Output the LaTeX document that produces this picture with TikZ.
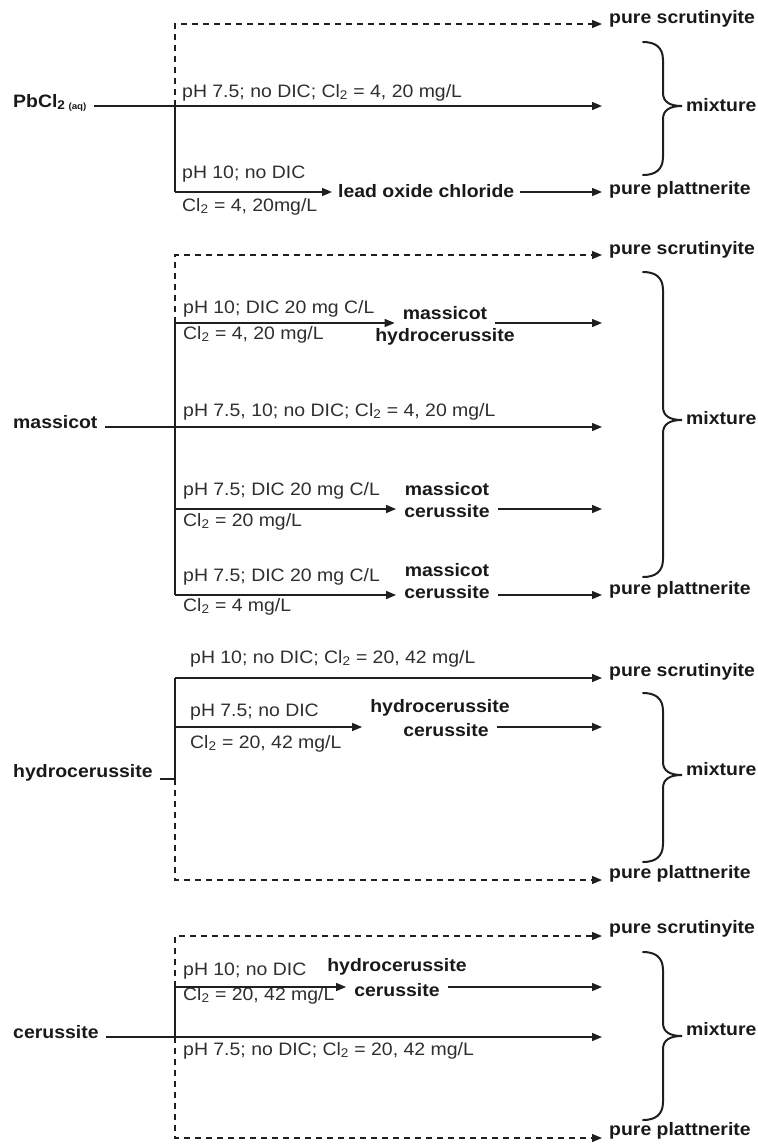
\documentclass[tikz,border=0pt]{standalone}
\usepackage{fontspec}
\setmainfont{Liberation Sans}[FakeStretch=1.08]
\usetikzlibrary{arrows.meta}
\newcommand\drawbrace[3]{%
  \draw[brc] (643,#1) .. controls (655,#1) and (663,{#1+5}) .. (663,{#1+18})
    -- (663,{#2-13}) .. controls (663,{#2-4}) and (670,#2) .. (682,#2)
    .. controls (670,#2) and (663,{#2+4}) .. (663,{#2+13})
    -- (663,{#3-18}) .. controls (663,{#3-5}) and (655,#3) .. (643,#3);}
\begin{document}
\begin{tikzpicture}[x=1pt,y=-1pt,
  font=\fontsize{18}{22}\selectfont,
  cond/.style={inner sep=0pt, anchor=base west, text=black!82},
  src/.style={inner xsep=7pt, inner ysep=0pt, anchor=base west, font=\fontsize{18}{22}\selectfont\bfseries, text=black!90},
  prod/.style={inner xsep=7pt, inner ysep=0pt, anchor=west, font=\fontsize{18}{22}\selectfont\bfseries, text=black!90},
  inter/.style={inner xsep=8pt, inner ysep=0pt, font=\fontsize{18}{22}\selectfont\bfseries, text=black!90},
  mix/.style={inner xsep=4pt, inner ysep=0pt, anchor=west, font=\fontsize{18}{22}\selectfont\bfseries, text=black!90},
  ln/.style={line width=1.4pt, draw=black!88},
  arr/.style={ln, -{Triangle[length=10pt,width=8pt]}},
  dln/.style={line width=1.2pt, draw=black!88, dash pattern=on 6pt off 5pt},
  darr/.style={dln, -{Triangle[length=10pt,width=8pt]}},
  brc/.style={line width=2pt, draw=black!88, line cap=round},
]
\useasboundingbox (0,0) rectangle (758,1144);

% ================= Section 1: PbCl2 =================
\coordinate (j1) at (175,106);
\coordinate (c1top) at (175,24);
\coordinate (k1) at (175,192);
\coordinate (e1m) at (602,106);
\node[src] (src1) at (6,107) {PbCl\textsubscript{2}\,\textsubscript{\fontsize{9}{10}\selectfont (aq)}};
\node[prod] (ps1) at (602,19) {pure scrutinyite};
\node[prod] (pp1) at (602,190) {pure plattnerite};
\node[inter, anchor=west, inner xsep=6pt] (loc) at (332,191) {lead oxide chloride};
\node[cond] (t1a) at (182,97) {pH 7.5; no DIC; Cl\textsubscript{2} = 4, 20 mg/L};
\node[cond] (t1b) at (182,178) {pH 10; no DIC};
\node[cond] (t1c) at (182,211) {Cl\textsubscript{2} = 4, 20mg/L};
\node[mix] (mx1) at (682,105) {mixture};
\draw[darr] (j1) -- (c1top) -- (ps1.west |- c1top);
\draw[arr] (src1.east |- j1) -- (e1m);
\draw[ln] (j1) -- (k1);
\draw[arr] (k1) -- (loc.west |- k1);
\draw[arr] (loc.east |- k1) -- (pp1.west |- k1);
\drawbrace{42}{106}{175}

% ================= Section 2: massicot =================
\coordinate (b2a) at (175,323);
\coordinate (c2top) at (175,255);
\coordinate (j2) at (175,427);
\coordinate (b2b) at (175,509);
\coordinate (b2c) at (175,595);
\coordinate (e2a) at (602,323);
\coordinate (e2m) at (602,427);
\coordinate (e2b) at (602,509);
\node[src] (src2) at (6,428) {massicot};
\node[prod] (ps2) at (602,250) {pure scrutinyite};
\node[prod] (pp2) at (602,590) {pure plattnerite};
\node[inter] (m2a) at (445,313) {massicot};
\node[inter] (h2a) at (445,337) {hydrocerussite};
\node[inter] (m2b) at (447,489) {massicot};
\node[inter] (c2b) at (447,511) {cerussite};
\node[inter] (m2c) at (447,570) {massicot};
\node[inter] (c2c) at (447,592) {cerussite};
\node[cond] (t2a) at (183,313) {pH 10; DIC 20 mg C/L};
\node[cond] (t2b) at (183,339) {Cl\textsubscript{2} = 4, 20 mg/L};
\node[cond] (t2c) at (183,416) {pH 7.5, 10; no DIC; Cl\textsubscript{2} = 4, 20 mg/L};
\node[cond] (t2d) at (183,495) {pH 7.5; DIC 20 mg C/L};
\node[cond] (t2e) at (183,526) {Cl\textsubscript{2} = 20 mg/L};
\node[cond] (t2f) at (183,581) {pH 7.5; DIC 20 mg C/L};
\node[cond] (t2g) at (183,611) {Cl\textsubscript{2} = 4 mg/L};
\node[mix] (mx2) at (682,418) {mixture};
\draw[darr] (b2a) -- (c2top) -- (ps2.west |- c2top);
\draw[ln] (b2a) -- (b2c);
\draw[arr] (b2a) -- (m2a.west |- b2a);
\draw[arr] (m2a.east |- b2a) -- (e2a);
\draw[arr] (src2.east |- j2) -- (e2m);
\draw[arr] (b2b) -- (c2b.west |- b2b);
\draw[arr] (c2b.east |- b2b) -- (e2b);
\draw[arr] (b2c) -- (c2c.west |- b2c);
\draw[arr] (c2c.east |- b2c) -- (pp2.west |- b2c);
\drawbrace{272}{420}{577}

% ================= Section 3: hydrocerussite =================
\coordinate (b3a) at (175,678);
\coordinate (b3b) at (175,727);
\coordinate (j3) at (175,779);
\coordinate (c3bot) at (175,880);
\coordinate (e3b) at (602,727);
\node[src] (src3) at (6,777) {hydrocerussite};
\node[prod] (ps3) at (602,672) {pure scrutinyite};
\node[prod] (pp3) at (602,874) {pure plattnerite};
\node[inter] (h3) at (440,708) {hydrocerussite};
\node[inter] (c3) at (446,730) {cerussite};
\node[cond] (t3a) at (190,663) {pH 10; no DIC; Cl\textsubscript{2} = 20, 42 mg/L};
\node[cond] (t3b) at (190,716) {pH 7.5; no DIC};
\node[cond] (t3c) at (190,748) {Cl\textsubscript{2} = 20, 42 mg/L};
\node[mix] (mx3) at (682,769) {mixture};
\draw[ln] (src3.east |- j3) -- (j3) -- (b3a);
\draw[arr] (b3a) -- (ps3.west |- b3a);
\draw[arr] (b3b) -- (h3.west |- b3b);
\draw[arr] (c3.east |- b3b) -- (e3b);
\draw[darr] (j3) -- (c3bot) -- (pp3.west |- c3bot);
\drawbrace{693}{775}{862}

% ================= Section 4: cerussite =================
\coordinate (b4a) at (175,987);
\coordinate (c4top) at (175,936);
\coordinate (j4) at (175,1037);
\coordinate (c4bot) at (175,1138);
\coordinate (e4a) at (602,987);
\coordinate (e4m) at (602,1037);
\node[src] (src4) at (6,1038) {cerussite};
\node[prod] (ps4) at (602,929) {pure scrutinyite};
\node[prod] (pp4) at (602,1131) {pure plattnerite};
\node[inter] (h4) at (397,967) {hydrocerussite};
\node[inter] (c4) at (397,990) {cerussite};
\node[cond] (t4a) at (183,975) {pH 10; no DIC};
\node[cond] (t4b) at (183,1000) {Cl\textsubscript{2} = 20, 42 mg/L};
\node[cond] (t4c) at (183,1055) {pH 7.5; no DIC; Cl\textsubscript{2} = 20, 42 mg/L};
\node[mix] (mx4) at (682,1029) {mixture};
\draw[darr] (b4a) -- (c4top) -- (ps4.west |- c4top);
\draw[ln] (b4a) -- (j4);
\draw[arr] (b4a) -- (c4.west |- b4a);
\draw[arr] (c4.east |- b4a) -- (e4a);
\draw[arr] (src4.east |- j4) -- (e4m);
\draw[darr] (j4) -- (c4bot) -- (pp4.west |- c4bot);
\drawbrace{952}{1036}{1120}
\end{tikzpicture}
\end{document}
